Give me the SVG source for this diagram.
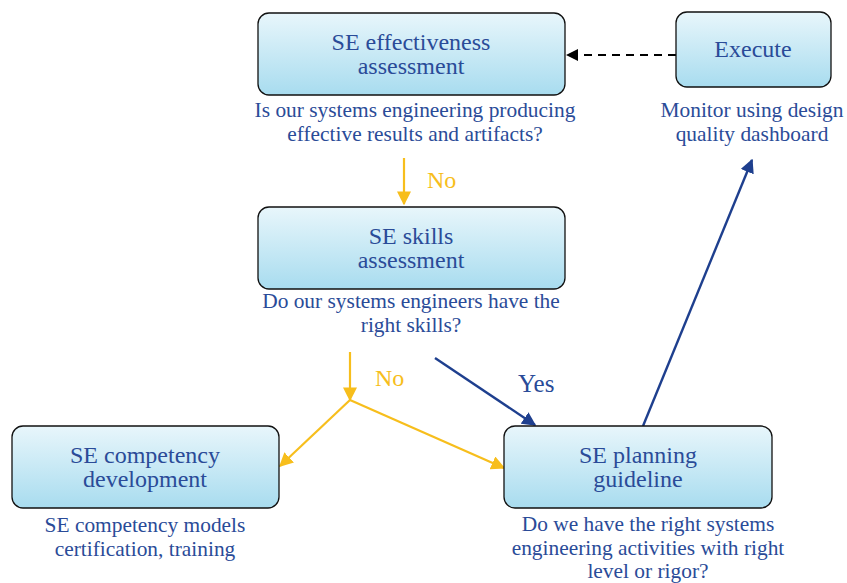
<svg xmlns="http://www.w3.org/2000/svg" width="847" height="583" viewBox="0 0 847 583">
  <defs>
    <linearGradient id="boxFill" x1="0" y1="0" x2="0" y2="1">
      <stop offset="0" stop-color="#E8F6FB"/>
      <stop offset="1" stop-color="#A8DCEF"/>
    </linearGradient>
    <marker id="arrYellow" viewBox="0 0 10 10" refX="9" refY="5" markerWidth="14" markerHeight="14" orient="auto" markerUnits="userSpaceOnUse">
      <path d="M0,0 L10,5 L0,10 z" fill="#F7BE1C"/>
    </marker>
    <marker id="arrBlue" viewBox="0 0 10 10" refX="9" refY="5" markerWidth="14" markerHeight="14" orient="auto" markerUnits="userSpaceOnUse">
      <path d="M0,0 L10,5 L0,10 z" fill="#1E3F8E"/>
    </marker>
    <style>
      .box { fill: url(#boxFill); stroke: #111; stroke-width: 1.3; }
      text { font-family: "Liberation Serif", "DejaVu Serif", "Times New Roman", serif; }
      .title { font-size: 24px; fill: #2A4B98; text-anchor: middle; }
      .cap { font-size: 21.4px; fill: #2A4B98; text-anchor: middle; }
      .lblY { font-size: 24px; fill: #F7BE1C; }
      .lblB { font-size: 25px; fill: #2A4B98; }
      .yel { stroke: #F7BE1C; stroke-width: 2.2; fill: none; }
      .blu { stroke: #1E3F8E; stroke-width: 2.4; fill: none; }
    </style>
  </defs>

  <!-- connectors -->
  <g id="connectors">
    <line x1="676" y1="55" x2="578" y2="55" stroke="#000" stroke-width="2.2" stroke-dasharray="8,6"/>
    <path d="M578,49 L566,55 L578,61 z" fill="#000"/>
    <line class="yel" x1="404" y1="158" x2="404" y2="204" marker-end="url(#arrYellow)"/>
    <line class="yel" x1="350" y1="352" x2="350" y2="400" marker-end="url(#arrYellow)"/>
    <line class="yel" x1="350" y1="400" x2="280" y2="466" marker-end="url(#arrYellow)"/>
    <line class="yel" x1="350" y1="400" x2="504" y2="468" marker-end="url(#arrYellow)"/>
    <line class="blu" x1="435" y1="358" x2="535" y2="425" marker-end="url(#arrBlue)"/>
    <line class="blu" x1="643" y1="426" x2="752" y2="160" marker-end="url(#arrBlue)"/>
    <text class="lblY" x="427" y="188">No</text>
    <text class="lblY" x="375" y="386">No</text>
    <text class="lblB" x="518" y="392">Yes</text>
  </g>

  <g id="effectiveness">
    <rect class="box" x="258" y="13" width="307" height="82" rx="11"/>
    <text class="title" x="411" y="50">SE effectiveness</text>
    <text class="title" x="411" y="74">assessment</text>
    <text class="cap" x="415" y="117">Is our systems engineering producing</text>
    <text class="cap" x="415" y="141">effective results and artifacts?</text>
  </g>

  <g id="execute">
    <rect class="box" x="676" y="12" width="155" height="75" rx="11"/>
    <text class="title" x="753" y="57">Execute</text>
    <text class="cap" x="752" y="117">Monitor using design</text>
    <text class="cap" x="752" y="141">quality dashboard</text>
  </g>

  <g id="skills">
    <rect class="box" x="258" y="207" width="307" height="82" rx="11"/>
    <text class="title" x="411" y="244">SE skills</text>
    <text class="title" x="411" y="268">assessment</text>
    <text class="cap" x="411" y="308">Do our systems engineers have the</text>
    <text class="cap" x="411" y="332">right skills?</text>
  </g>

  <g id="competency">
    <rect class="box" x="12" y="426" width="267" height="82" rx="11"/>
    <text class="title" x="145" y="463">SE competency</text>
    <text class="title" x="145" y="487">development</text>
    <text class="cap" x="145" y="532">SE competency models</text>
    <text class="cap" x="145" y="556">certification, training</text>
  </g>

  <g id="planning">
    <rect class="box" x="504" y="426" width="268" height="82" rx="11"/>
    <text class="title" x="638" y="463">SE planning</text>
    <text class="title" x="638" y="487">guideline</text>
    <text class="cap" x="648" y="531">Do we have the right systems</text>
    <text class="cap" x="648" y="555">engineering activities with right</text>
    <text class="cap" x="648" y="578">level or rigor?</text>
  </g>
</svg>
